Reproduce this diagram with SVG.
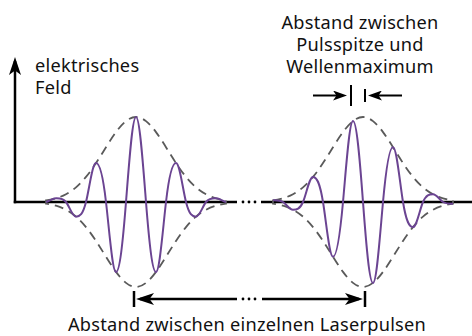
<svg xmlns="http://www.w3.org/2000/svg" width="472" height="336" viewBox="0 0 472 336">
<style>
.axis{stroke:#000;stroke-width:2.5;fill:none}
.dot{fill:#000}
.wave{stroke:#6b4492;stroke-width:2;fill:none}
.env{stroke:#5a5a5a;stroke-width:1.8;fill:none;stroke-dasharray:9 6}
.dim{stroke:#000;stroke-width:2.5;fill:none}
.dimthin{stroke:#000;stroke-width:2;fill:none}
.lbl{font-family:"Noto Sans","Open Sans",sans-serif;font-size:18.2px;letter-spacing:0.25px;fill:#111}
</style>
<defs>
<marker id="big" markerUnits="userSpaceOnUse" viewBox="0 0 18 12" refX="14" refY="6" markerWidth="18" markerHeight="12" orient="auto"><path d="M0,0 L18,6 L0,12 L4.5,6 Z" fill="#000"/></marker>
<marker id="small" markerUnits="userSpaceOnUse" viewBox="0 0 14 10" refX="10" refY="5" markerWidth="14" markerHeight="10" orient="auto"><path d="M0,0 L14,5 L0,10 L3.5,5 Z" fill="#000"/></marker>
<path id="envelope" d="M46,200.37 C49.33,199.89 52.67,199.24 56,198.27 C59.33,197.3 62.67,196 66,194.23 C69.33,192.46 72.67,190.21 76,187.35 C79.33,184.49 82.67,180.99 86,176.9 C89.33,172.81 92.67,168.17 96,163.1 C99.33,158.03 102.67,152.55 106,147.2 C109.33,141.85 112.67,136.65 116,132.1 C119.33,127.55 122.67,123.73 126,121.1 C129.33,118.47 132.67,117 136,117 C139.33,117 142.67,118.47 146,121.1 C149.33,123.73 152.67,127.55 156,132.1 C159.33,136.65 162.67,141.85 166,147.2 C169.33,152.55 172.67,158.03 176,163.1 C179.33,168.17 182.67,172.81 186,176.9 C189.33,180.99 192.67,184.49 196,187.35 C199.33,190.21 202.67,192.46 206,194.23 C209.33,196 212.67,197.3 216,198.27 C219.33,199.24 222.67,199.89 226,200.37 L226,203.63 C222.67,204.11 219.33,204.76 216,205.73 C212.67,206.7 209.33,208 206,209.77 C202.67,211.54 199.33,213.79 196,216.65 C192.67,219.51 189.33,223.01 186,227.1 C182.67,231.19 179.33,235.83 176,240.9 C172.67,245.97 169.33,251.45 166,256.8 C162.67,262.15 159.33,267.35 156,271.9 C152.67,276.45 149.33,280.27 146,282.9 C142.67,285.53 139.33,287 136,287 C132.67,287 129.33,285.53 126,282.9 C122.67,280.27 119.33,276.45 116,271.9 C112.67,267.35 109.33,262.15 106,256.8 C102.67,251.45 99.33,245.97 96,240.9 C92.67,235.83 89.33,231.19 86,227.1 C82.67,223.01 79.33,219.51 76,216.65 C72.67,213.79 69.33,211.54 66,209.77 C62.67,208 59.33,206.7 56,205.73 C52.67,204.76 49.33,204.11 46,203.63 Z"/>
</defs>

<g id="axes">
<line class="axis" x1="15" y1="203.25" x2="15" y2="61" marker-end="url(#big)"/>
<line class="axis" x1="13.75" y1="202" x2="237" y2="202"/>
<circle class="dot" cx="243" cy="202" r="1.4"/>
<circle class="dot" cx="249" cy="202" r="1.4"/>
<circle class="dot" cx="255" cy="202" r="1.4"/>
<line class="axis" x1="261" y1="202" x2="472" y2="202"/>
</g>

<g id="pulse1">
<use href="#envelope" class="env"/>
<path class="wave" d="M46,202 C49.26,201.17 52.38,198.27 56,198.27 C59.62,198.27 62.74,198.02 66,202 C69.26,205.98 72.38,216.65 76,216.65 C79.62,216.65 82.74,214.86 86,202 C89.26,189.14 92.38,163.1 96,163.1 C99.62,163.1 102.74,173.93 106,202 C109.26,230.07 112.38,271.9 116,271.9 C119.62,271.9 122.74,243.45 126,202 C129.26,160.55 132.38,117 136,117 C139.62,117 142.74,160.55 146,202 C149.26,243.45 152.38,271.9 156,271.9 C159.62,271.9 162.74,230.07 166,202 C169.26,173.93 172.38,163.1 176,163.1 C179.62,163.1 182.74,189.14 186,202 C189.26,214.86 192.38,216.65 196,216.65 C199.62,216.65 202.74,205.98 206,202 C209.26,198.02 212.38,198.27 216,198.27 C219.62,198.27 222.74,201.17 226,202"/>
</g>

<g id="pulse2">
<use href="#envelope" class="env" transform="translate(227,0)"/>
<path class="wave" d="M273,200.37 C276.62,200.37 279.74,200.09 283,202 C286.26,203.91 289.38,209.77 293,209.77 C296.62,209.77 299.74,209.51 303,202 C306.26,194.49 309.38,176.9 313,176.9 C316.62,176.9 319.74,182.07 323,202 C326.26,221.93 329.38,256.8 333,256.8 C336.62,256.8 339.74,237.81 343,202 C346.26,166.19 349.38,121.1 353,121.1 C356.62,121.1 359.74,158.45 363,202 C366.26,245.55 369.38,282.9 373,282.9 C376.62,282.9 379.74,237.81 383,202 C386.26,166.19 389.38,147.2 393,147.2 C396.62,147.2 399.74,182.07 403,202 C406.26,221.93 409.38,227.1 413,227.1 C416.62,227.1 419.74,209.51 423,202 C426.26,194.49 429.38,194.23 433,194.23 C436.62,194.23 439.74,200.09 443,202 C446.26,203.91 449.38,203.63 453,203.63"/>
</g>

<g id="label-field">
<text class="lbl" x="35" y="71.5">elektrisches</text>
<text class="lbl" x="35" y="93.5">Feld</text>
</g>

<g id="label-offset">
<text class="lbl" x="360" y="28.5" text-anchor="middle">Abstand zwischen</text>
<text class="lbl" x="360" y="50.5" text-anchor="middle">Pulsspitze und</text>
<text class="lbl" x="360" y="72.5" text-anchor="middle">Wellenmaximum</text>
</g>

<g id="dim-offset">
<line class="dimthin" x1="313" y1="95.5" x2="343" y2="95.5" marker-end="url(#small)"/>
<line class="dimthin" x1="351" y1="85" x2="351" y2="106"/>
<line class="dimthin" x1="365" y1="89" x2="365" y2="102"/>
<line class="dimthin" x1="402" y1="95.5" x2="372" y2="95.5" marker-end="url(#small)"/>
</g>

<g id="dim-period">
<line class="dim" x1="134" y1="291" x2="134" y2="307"/>
<line class="dim" x1="237" y1="299" x2="140" y2="299" marker-end="url(#big)"/>
<circle class="dot" cx="243" cy="299" r="1.4"/>
<circle class="dot" cx="249" cy="299" r="1.4"/>
<circle class="dot" cx="255" cy="299" r="1.4"/>
<line class="dim" x1="262" y1="299" x2="359" y2="299" marker-end="url(#big)"/>
<line class="dim" x1="365" y1="291" x2="365" y2="307"/>
</g>

<g id="label-period">
<text class="lbl" x="247" y="331" text-anchor="middle">Abstand zwischen einzelnen Laserpulsen</text>
</g>
</svg>
